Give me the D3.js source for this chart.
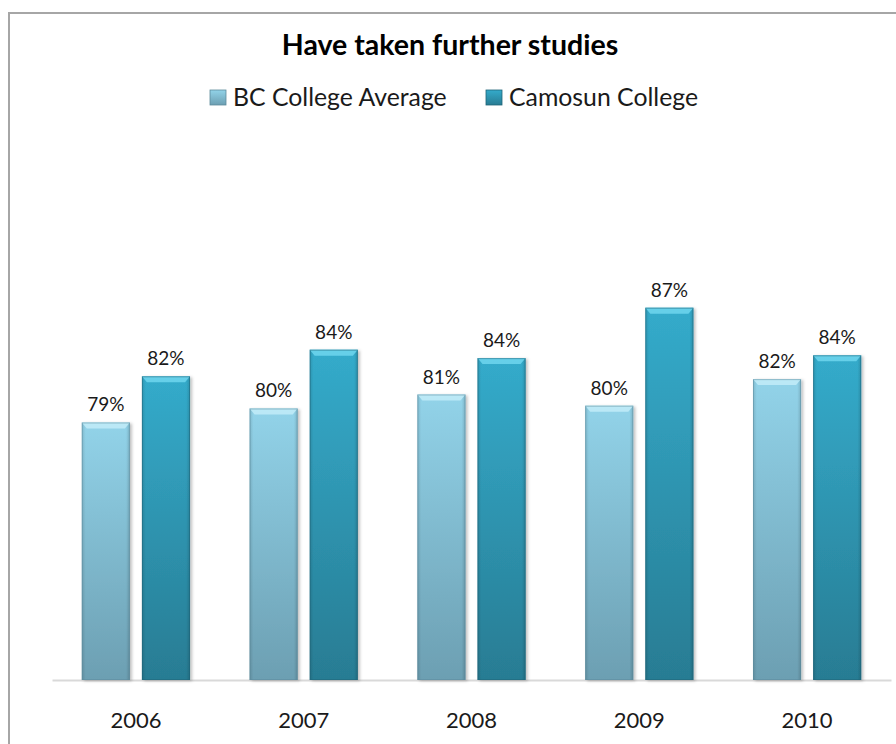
<!DOCTYPE html>
<html>
<head>
<meta charset="utf-8">
<script src="https://cdn.jsdelivr.net/npm/d3@7"></script>
<style>
  html, body { margin: 0; padding: 0; background: #fff; }
  svg { display: block; font-family: Lato, "Open Sans", sans-serif; }
</style>
</head>
<body>
<svg id="chart" width="896" height="744"></svg>
<script>
const titleText = "Have taken further studies";
const years = ["2006", "2007", "2008", "2009", "2010"];
const seriesNames = ["BC College Average", "Camosun College"];
const bcValues = [79.1, 80.1, 81.1, 80.3, 82.2];
const camosunValues = [82.4, 84.3, 83.7, 87.3, 83.9];

const seriesValues = [bcValues, camosunValues];
const styles = [
  { top: "#92d3e9", bottom: "#6c9fb2", bevel: "#c2ecf8", edge: "#5c8a9b" },
  { top: "#34abcb", bottom: "#287c93", bevel: "#6fd6ee", edge: "#1f6478" }
];

const svg = d3.select("#chart");
const defs = svg.append("defs");

styles.forEach((s, i) => {
  const g = defs.append("linearGradient").attr("id", "grad" + i)
    .attr("x1", 0).attr("y1", 0).attr("x2", 0).attr("y2", 1);
  g.append("stop").attr("offset", "0%").attr("stop-color", s.top);
  g.append("stop").attr("offset", "100%").attr("stop-color", s.bottom);
  const h = defs.append("linearGradient").attr("id", "side" + i)
    .attr("x1", 0).attr("y1", 0).attr("x2", 1).attr("y2", 0);
  h.append("stop").attr("offset", "0%").attr("stop-color", "#000").attr("stop-opacity", 0.12);
  h.append("stop").attr("offset", "8%").attr("stop-color", "#000").attr("stop-opacity", 0);
  h.append("stop").attr("offset", "92%").attr("stop-color", "#000").attr("stop-opacity", 0);
  h.append("stop").attr("offset", "100%").attr("stop-color", "#000").attr("stop-opacity", 0.15);
});
const f = defs.append("filter").attr("id", "shadow").attr("x", "-20%").attr("y", "-5%").attr("width", "140%").attr("height", "110%");
f.append("feDropShadow").attr("dx", 2).attr("dy", 1).attr("stdDeviation", 1.5)
  .attr("flood-color", "#000").attr("flood-opacity", 0.25);

// outer chart border
svg.append("rect")
  .attr("x", 9).attr("y", 13).attr("width", 920).attr("height", 800)
  .attr("fill", "none").attr("stroke", "#a6a6a6").attr("stroke-width", 2);

const x0 = d3.scaleBand().domain(years).range([52, 891]).paddingInner(0.355).paddingOuter(0.1775);
const x1 = d3.scaleBand().domain(seriesNames).range([0, x0.bandwidth()]).paddingInner(0.2);
const y = d3.scaleLinear().domain([60.7, 100]).range([680, 130]);

// title
svg.append("text")
  .attr("x", 450).attr("y", 55).attr("text-anchor", "middle")
  .attr("font-size", 28.5).attr("font-weight", "bold").attr("fill", "#000")
  .text(titleText);

// legend
const legendX = [210, 486];
seriesNames.forEach((name, i) => {
  const lg = svg.append("g").attr("transform", `translate(${legendX[i]},90)`);
  lg.append("rect").attr("width", 16).attr("height", 15)
    .attr("fill", `url(#grad${i})`).attr("stroke", styles[i].edge).attr("stroke-width", 0.8);
  lg.append("text").attr("x", 23).attr("y", 16)
    .attr("font-size", 24.8).attr("fill", "#1a1a1a").text(name);
});

// baseline axis
const xAxis = d3.axisBottom(x0).tickSize(0).tickPadding(32);
const axisG = svg.append("g").attr("transform", "translate(0,680)").call(xAxis);
axisG.select(".domain").attr("stroke", "#d9d9d9").attr("stroke-width", 2);
axisG.selectAll("text").attr("font-size", 22).attr("fill", "#1a1a1a").attr("font-family", "Lato, 'Open Sans', sans-serif");

// bars
const groups = svg.append("g").selectAll("g").data(years).join("g")
  .attr("transform", d => `translate(${x0(d)},0)`);

seriesNames.forEach((name, si) => {
  const bw = x1.bandwidth();
  const bx = x1(name);
  groups.each(function (yr, yi) {
    const v = seriesValues[si][yi];
    const top = y(v), h = y.range()[0] - top;
    const g = d3.select(this);
    g.append("rect").attr("x", bx).attr("y", top).attr("width", bw).attr("height", h)
      .attr("fill", `url(#grad${si})`).attr("filter", "url(#shadow)");
    g.append("rect").attr("x", bx).attr("y", top).attr("width", bw).attr("height", h)
      .attr("fill", `url(#side${si})`);
    g.append("path")
      .attr("d", `M${bx},${top} L${bx + bw},${top} L${bx + bw - 5},${top + 6} L${bx + 5},${top + 6} Z`)
      .attr("fill", styles[si].bevel).attr("opacity", 0.85);
    g.append("rect").attr("x", bx + 0.5).attr("y", top + 0.5).attr("width", bw - 1).attr("height", h - 1)
      .attr("fill", "none").attr("stroke", styles[si].edge).attr("stroke-opacity", 0.5).attr("stroke-width", 1);
    g.append("text")
      .attr("x", bx + bw / 2).attr("y", top - 11).attr("text-anchor", "middle")
      .attr("font-size", 19).attr("fill", "#1a1a1a")
      .text(d3.format(".0f")(v) + "%");
  });
});
</script>
</body>
</html>
